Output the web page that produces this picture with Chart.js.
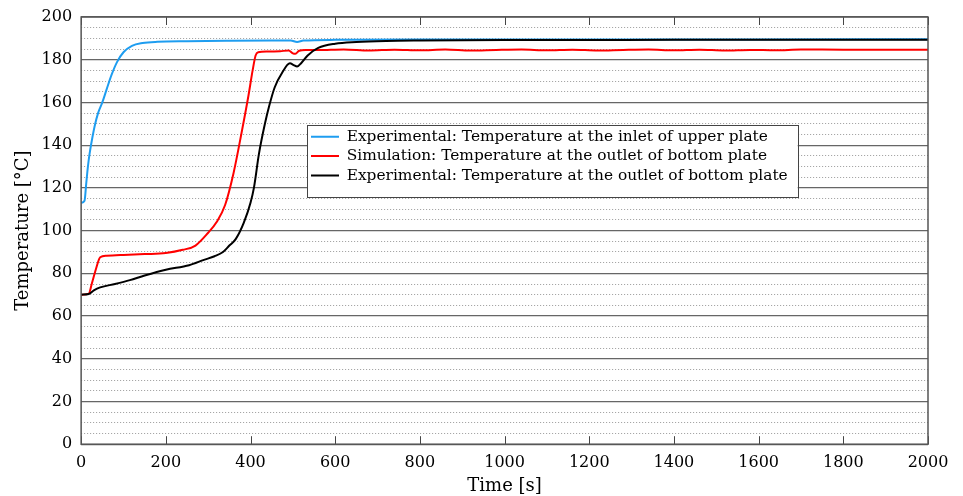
<!DOCTYPE html>
<html>
<head>
<meta charset="utf-8">
<script src="https://cdn.jsdelivr.net/npm/chart.js@4/dist/chart.umd.min.js"></script>
<style>
  html, body { margin: 0; padding: 0; background: #fff; }
  #wrap { width: 963px; height: 496px; }
</style>
</head>
<body>
<div id="wrap"><canvas id="tempChart"></canvas></div>
<script>
// values
const timeBlue = [0, 8, 12, 16, 20, 26, 32, 40, 50, 60, 72, 85, 100, 120, 145, 180, 250, 350, 450, 495, 510, 525, 600, 800, 1200, 1600, 2000];
const tempBlue = [113, 114, 122, 130, 136, 143, 149, 155, 160, 166, 173, 179, 183.5, 186.5, 187.8, 188.4, 188.7, 188.9, 189, 189, 188.3, 189, 189.3, 189.5, 189.5, 189.5, 189.6];

const timeRed = [0, 18, 25, 35, 45, 60, 100, 150, 200, 240, 270, 300, 320, 340, 360, 380, 395, 405, 412, 418, 440, 470, 490, 500, 506, 515, 530,
  560, 620, 680, 740, 800, 860, 920, 980, 1040, 1100, 1160, 1220, 1280, 1340, 1400, 1460, 1520, 1580, 1640, 1700, 1800, 2000];
const tempRed = [70, 70.5, 75, 82, 87.5, 88.2, 88.6, 89, 89.5, 91, 93, 99, 104, 112, 127, 147, 163, 175, 182, 183.5, 183.8, 184, 184.3, 183, 182.8, 184.2, 184.6,
  184.5, 184.8, 184.3, 184.7, 184.4, 184.8, 184.3, 184.6, 184.8, 184.4, 184.7, 184.3, 184.6, 184.8, 184.4, 184.7, 184.3, 184.6, 184.4, 184.8, 184.7, 184.7];

const timeBlack = [0, 18, 30, 45, 80, 115, 150, 200, 255, 290, 315, 335, 350, 365, 384, 400, 408, 420, 434, 445, 457, 475, 493, 502, 510, 520, 535, 560, 600, 650, 720, 800, 1000, 1400, 2000];
const tempBlack = [70, 70.3, 72, 73.4, 75, 76.8, 79, 81.7, 83.8, 86.3, 88, 90, 93, 96, 103.6, 113, 120, 136, 150, 159, 167, 174, 178.3, 177.5, 176.8, 178.5, 182, 185.5, 187.5, 188.3, 188.8, 189, 189.2, 189.3, 189.4];

const seriesLabels = [
  "Experimental: Temperature at the inlet of upper plate",
  "Simulation: Temperature at the outlet of bottom plate",
  "Experimental: Temperature at the outlet of bottom plate"
];
const xTicks = [0, 200, 400, 600, 800, 1000, 1200, 1400, 1600, 1800, 2000];
const yTicks = [0, 20, 40, 60, 80, 100, 120, 140, 160, 180, 200];

function toPoints(xs, ys) {
  return xs.map(function(x, i) { return { x: x, y: ys[i] }; });
}

const FONT = "'DejaVu Serif', serif";

// moves the legend inside the plot, draws the frame and the inward x ticks
const framePlugin = {
  id: "framePlugin",
  afterLayout(chart) {
    const lg = chart.legend;
    const area = chart.chartArea;
    const w = lg.width, h = lg.height;
    lg.left = Math.round(area.left + (area.right - area.left) * 0.267);
    lg.top = Math.round(area.top + (area.bottom - area.top) * 0.252);
    lg.right = lg.left + w;
    lg.bottom = lg.top + h;
  },
  beforeDatasetsDraw(chart) {
    const ctx = chart.ctx;
    const area = chart.chartArea;
    const xs = chart.scales.x;
    ctx.save();
    ctx.strokeStyle = "#444";
    ctx.lineWidth = 1;
    xs.ticks.forEach(function(t) {
      const px = Math.round(xs.getPixelForValue(t.value)) + 0.5;
      ctx.beginPath();
      ctx.moveTo(px, area.bottom);
      ctx.lineTo(px, area.bottom - 8);
      ctx.moveTo(px, area.top);
      ctx.lineTo(px, area.top + 8);
      ctx.stroke();
    });
    ctx.restore();
  },
  afterDatasetsDraw(chart) {
    const ctx = chart.ctx;
    const area = chart.chartArea;
    const lg = chart.legend;
    ctx.save();
    ctx.strokeStyle = "#555";
    ctx.lineWidth = 1.5;
    ctx.strokeRect(area.left, area.top, area.right - area.left, area.bottom - area.top);
    // legend sits over the grid: white box, border, then the legend again
    ctx.fillStyle = "#fff";
    ctx.fillRect(lg.left, lg.top, lg.width, lg.height);
    ctx.strokeStyle = "#444";
    ctx.lineWidth = 1;
    ctx.strokeRect(lg.left + 0.5, lg.top + 0.5, Math.round(lg.width), Math.round(lg.height));
    ctx.restore();
    lg.draw(area);
  }
};

new Chart(document.getElementById("tempChart"), {
  type: "line",
  data: {
    datasets: [
      {
        label: seriesLabels[0],
        data: toPoints(timeBlue, tempBlue),
        borderColor: "#1e9df0",
        backgroundColor: "#1e9df0",
        borderWidth: 2,
        order: 3
      },
      {
        label: seriesLabels[1],
        data: toPoints(timeRed, tempRed),
        borderColor: "#ff0000",
        backgroundColor: "#ff0000",
        borderWidth: 2,
        order: 2
      },
      {
        label: seriesLabels[2],
        data: toPoints(timeBlack, tempBlack),
        borderColor: "#000000",
        backgroundColor: "#000000",
        borderWidth: 2,
        order: 1
      }
    ]
  },
  options: {
    responsive: true,
    maintainAspectRatio: false,
    animation: false,
    elements: {
      point: { radius: 0 },
      line: { cubicInterpolationMode: "monotone" }
    },
    layout: { padding: { top: 5, right: 35, left: 13, bottom: -1 } },
    scales: {
      x: {
        type: "linear",
        min: 0,
        max: 2000,
        afterBuildTicks: function(scale) { scale.ticks = xTicks.map(function(v) { return { value: v }; }); },
        grid: { drawOnChartArea: false, drawTicks: false },
        border: { display: false },
        ticks: { padding: 9, color: "#000", font: { family: FONT, size: 16 }, callback: function(v) { return String(v); } },
        title: { display: true, text: "Time [s]", color: "#000", font: { family: FONT, size: 18 }, padding: { top: -6, bottom: 0 } }
      },
      y: {
        min: 0,
        max: 200,
        afterBuildTicks: function(scale) { scale.ticks = yTicks.map(function(v) { return { value: v }; }); },
        grid: { color: "#666", lineWidth: 1.2, drawTicks: false },
        border: { display: false },
        ticks: { padding: 9, color: "#000", font: { family: FONT, size: 16, lineHeight: 1 }, callback: function(v) { return String(v); } },
        title: { display: true, text: "Temperature [°C]", color: "#000", font: { family: FONT, size: 18 }, padding: { top: 0, bottom: -2 } }
      },
      yMinor: {
        position: "right",
        min: 0,
        max: 200,
        ticks: { display: false, stepSize: 5 },
        grid: {
          drawTicks: false,
          color: function(c) { return (c.tick && c.tick.value % 20 === 0) ? "rgba(0,0,0,0)" : "#9a9a9a"; },
          lineWidth: 1
        },
        border: { display: false, dash: [1, 2] }
      }
    },
    plugins: {
      legend: {
        position: "chartArea",
        align: "start",
        maxHeight: 72,
        labels: {
          usePointStyle: true,
          pointStyle: "line",
          pointStyleWidth: 28,
          boxHeight: 14,
          padding: 4,
          color: "#000",
          font: { family: FONT, size: 15.4 },
          sort: function(a, b) { return a.datasetIndex - b.datasetIndex; }
        }
      },
      tooltip: { enabled: false }
    }
  },
  plugins: [framePlugin]
});
</script>
</body>
</html>
